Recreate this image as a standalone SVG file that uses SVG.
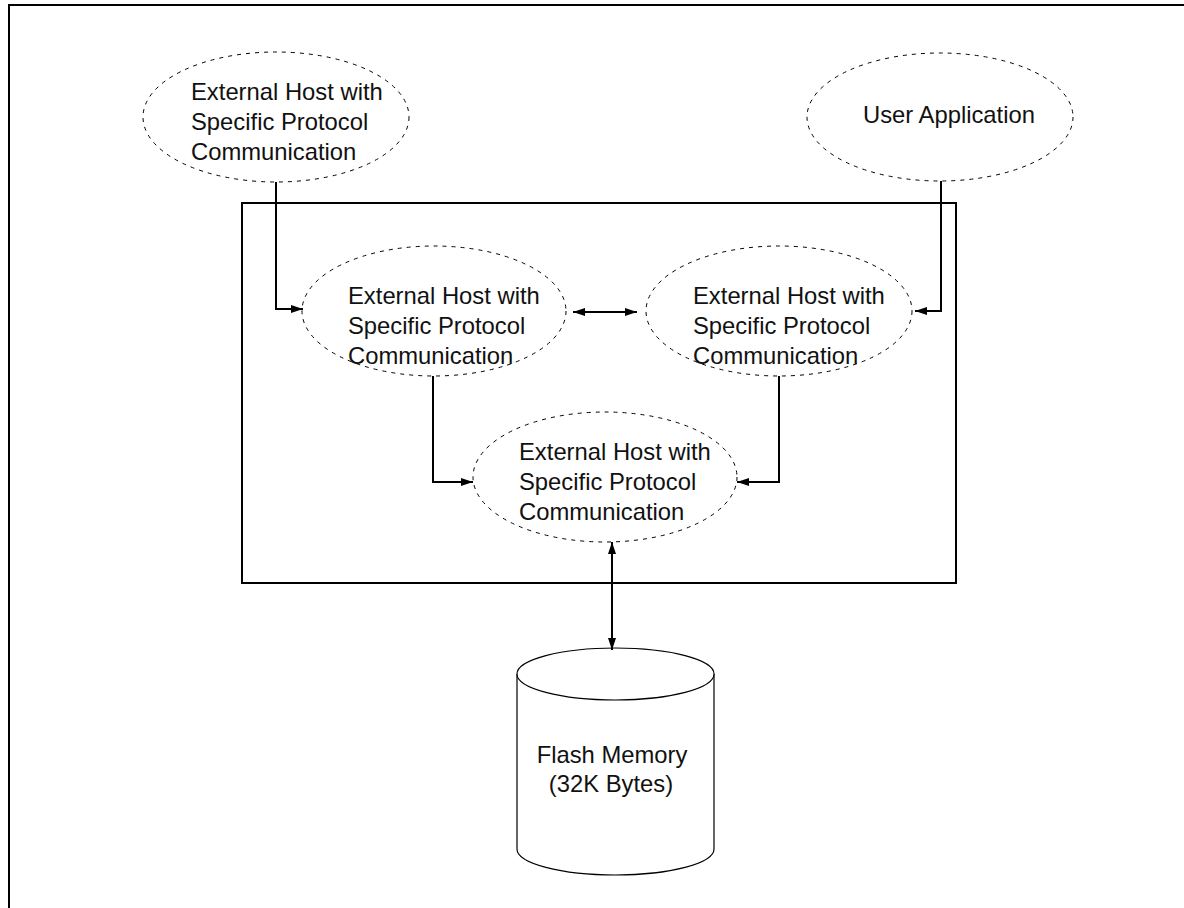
<svg xmlns="http://www.w3.org/2000/svg" width="1184" height="908" viewBox="0 0 1184 908">
  <style>
    .bg { fill: #ffffff; }
    .frame { fill: none; stroke: #000; stroke-width: 2; }
    .node { fill: none; stroke: #000; stroke-width: 1; stroke-dasharray: 4 5; }
    .cyl { fill: #fff; stroke: #000; stroke-width: 1.2; }
    .conn { fill: none; stroke: #000; stroke-width: 2; }
    .t { font-family: "Liberation Sans", Arial, sans-serif; font-size: 23.8px; fill: #111; }
    .c { text-anchor: middle; }
  </style>
  <defs>
    <marker id="arr" viewBox="0 0 12 8" refX="12" refY="4" markerWidth="12" markerHeight="8" markerUnits="userSpaceOnUse" orient="auto-start-reverse">
      <path d="M0,0 L12,4 L0,8 Z" fill="#000"/>
    </marker>
  </defs>
  <rect class="bg" x="0" y="0" width="1184" height="908"/>
  <path class="frame" d="M9,908 V5 H1184"/>
  <rect class="frame" x="242" y="203" width="714" height="380"/>

  <g id="host-top">
    <ellipse class="node" cx="276" cy="117" rx="133" ry="65"/>
    <text class="t" x="191" y="100">External Host with</text>
    <text class="t" x="191" y="130">Specific Protocol</text>
    <text class="t" x="191" y="160">Communication</text>
  </g>
  <g id="user-app">
    <ellipse class="node" cx="940" cy="117" rx="133" ry="64"/>
    <text class="t" x="863" y="123">User Application</text>
  </g>
  <g id="host-mid-left">
    <ellipse class="node" cx="434" cy="311" rx="132" ry="65"/>
    <text class="t" x="348" y="304">External Host with</text>
    <text class="t" x="348" y="334">Specific Protocol</text>
    <text class="t" x="348" y="364">Communication</text>
  </g>
  <g id="host-mid-right">
    <ellipse class="node" cx="779" cy="311" rx="133" ry="65"/>
    <text class="t" x="693" y="304">External Host with</text>
    <text class="t" x="693" y="334">Specific Protocol</text>
    <text class="t" x="693" y="364">Communication</text>
  </g>
  <g id="host-bottom">
    <ellipse class="node" cx="605" cy="477" rx="132" ry="65"/>
    <text class="t" x="519" y="460">External Host with</text>
    <text class="t" x="519" y="490">Specific Protocol</text>
    <text class="t" x="519" y="520">Communication</text>
  </g>
  <g id="flash">
    <path class="cyl" d="M517,674 V849 A98.5,26 0 0 0 714,849 V674"/>
    <ellipse class="cyl" cx="615.5" cy="674" rx="98.5" ry="26"/>
    <text class="t c" x="612" y="763">Flash Memory</text>
    <text class="t c" x="611" y="792">(32K Bytes)</text>
  </g>

  <g id="connectors">
    <path class="conn" d="M276,182 V309 H303" marker-end="url(#arr)"/>
    <path class="conn" d="M941,181 V311 H915" marker-end="url(#arr)"/>
    <path class="conn" d="M573,312 H637" marker-start="url(#arr)" marker-end="url(#arr)"/>
    <path class="conn" d="M433,376 V482 H473" marker-end="url(#arr)"/>
    <path class="conn" d="M779,376 V482 H737" marker-end="url(#arr)"/>
    <path class="conn" d="M612,542 V650" marker-start="url(#arr)" marker-end="url(#arr)"/>
  </g>
</svg>
